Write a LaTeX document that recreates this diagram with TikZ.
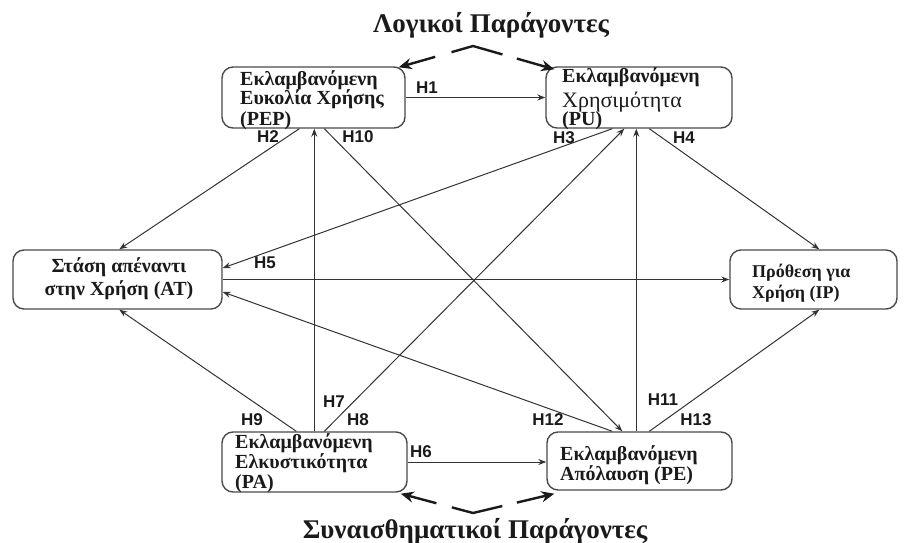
\documentclass[tikz,border=0pt]{standalone}
\usepackage{fontspec}
\setmainfont{Liberation Serif}
\newfontfamily\hsans{Liberation Sans}
\usetikzlibrary{arrows.meta,calc}
\definecolor{ink}{HTML}{1A1A1A}
\definecolor{edge}{HTML}{333333}
\definecolor{frame}{HTML}{4A4A4A}
\tikzset{
  box/.style={draw=frame, line width=1.4pt, rounded corners=11pt, inner sep=0pt},
  btext/.style={anchor=base west, inner sep=0pt, text=ink, font=\fontsize{20}{20}\selectfont\bfseries},
  ctext/.style={anchor=base, inner sep=0pt, text=ink, font=\fontsize{20}{20}\selectfont\bfseries},
  hlab/.style={inner sep=0pt, text=ink, font=\hsans\fontsize{17}{17}\selectfont\bfseries},
  link/.style={draw=edge, line width=1pt, -{Stealth[length=8pt,width=6pt]}},
  factor/.style={draw=ink, line width=2.4pt, {Stealth[length=13pt,width=11pt]}-{Stealth[length=13pt,width=11pt]}},
  title/.style={inner sep=0pt, text=ink, font=\fontsize{27}{27}\selectfont\bfseries}
}
\begin{document}
\begin{tikzpicture}[x=1pt,y=-1pt]
\useasboundingbox (0,0) rectangle (906,543);
% boxes
\node[box, minimum width=183pt, minimum height=61pt] (pep) at (313.5,97.5) {};
\node[box, minimum width=186pt, minimum height=61pt] (pu) at (639,97.5) {};
\node[box, minimum width=209pt, minimum height=59pt] (at) at (117.5,279.5) {};
\node[box, minimum width=167pt, minimum height=59pt] (ip) at (813.5,279.5) {};
\node[box, minimum width=185pt, minimum height=60pt] (pa) at (314.5,462) {};
\node[box, minimum width=185pt, minimum height=58pt] (pe) at (639.5,461) {};
% box texts
\node[btext] (pep1) at (240,85) {Εκλαμβανόμενη};
\node[btext] (pep2) at (240,105) {Ευκολία Χρήσης};
\node[btext] (pep3) at (240,125) {(PEP)};
\node[btext] (pu1) at (562,83) {Εκλαμβανόμενη};
\node[btext, font=\fontsize{22}{22}\selectfont] (pu2) at (562,107) {Χρησιμότητα};
\node[btext] (pu3) at (562,125) {(PU)};
\node[ctext] (at1) at (119,272) {Στάση απέναντι};
\node[ctext] (at2) at (119,295) {στην Χρήση (AT)};
\node[btext, font=\fontsize{18}{18}\selectfont\bfseries] (ip1) at (752,277) {Πρόθεση για};
\node[btext, font=\fontsize{18}{18}\selectfont\bfseries] (ip2) at (752,298) {Χρήση (IP)};
\node[btext] (pa1) at (235,448) {Εκλαμβανόμενη};
\node[btext] (pa2) at (235,468) {Ελκυστικότητα};
\node[btext] (pa3) at (235,488) {(PA)};
\node[btext] (pe1) at (560,460) {Εκλαμβανόμενη};
\node[btext] (pe2) at (560,480) {Απόλαυση (PE)};
% titles
\node[title] (logic) at (491,25) {Λογικοί Παράγοντες};
\node[title] (emot) at (475,531) {Συναισθηματικοί Παράγοντες};
\coordinate (toppeak) at (473,46);
\coordinate (botpeak) at (473,513);
% factor arrows
\draw[factor, dash pattern=on 30pt off 17pt on 53pt off 15pt on 60pt]
  ([xshift=-7pt,yshift=-1pt]pep.north east) -- (toppeak) -- ([xshift=9pt,yshift=-3pt]pu.north west);
\draw[factor, dash pattern=on 29pt off 16pt on 52pt off 15pt on 60pt]
  ([xshift=-7pt,yshift=-1pt]pa.south east) -- (botpeak) -- ([xshift=8pt,yshift=-3pt]pe.south west);
% links
\draw[link] (pep.east) -- (pu.west);
\draw[link] ([xshift=78pt]pep.south west) -- ([xshift=107pt]at.north west);
\draw[link] ([xshift=93pt]pa.north west) -- ([xshift=93pt]pep.south west);
\draw[link] ([xshift=103pt]pep.south west) -- ([xshift=76pt]pe.north west);
\draw[link] ([xshift=67pt]pu.south west) -- ([yshift=11.5pt]at.east);
\draw[link] ([xshift=103pt]pa.north west) -- ([xshift=79pt]pu.south west);
\draw[link] ([xshift=90pt]pe.north west) -- ([xshift=91pt]pu.south west);
\draw[link] ([xshift=104pt]pu.south west) -- ([xshift=90pt]ip.north west);
\draw[link] (at.east) -- (ip.west);
\draw[link] ([xshift=75pt]pa.north west) -- ([xshift=107pt]at.south west);
\draw[link] ([xshift=66pt]pe.north west) -- ([yshift=-12.5pt]at.east);
\draw[link] ([xshift=103pt]pe.north west) -- ([xshift=90pt]ip.south west);
\draw[link] (pa.east) -- (pa.east -| pe.west);
% hypothesis labels
\node[hlab] (h1) at (427,88) {H1};
\node[hlab] (h2) at (268,137) {H2};
\node[hlab] (h10) at (358,137) {H10};
\node[hlab] (h3) at (564,138) {H3};
\node[hlab] (h4) at (684,138) {H4};
\node[hlab] (h5) at (265,263) {H5};
\node[hlab] (h9) at (252,420) {H9};
\node[hlab] (h7) at (334,402) {H7};
\node[hlab] (h8) at (358,420) {H8};
\node[hlab] (h12) at (548,420) {H12};
\node[hlab] (h11) at (663,400) {H11};
\node[hlab] (h13) at (696,420) {H13};
\node[hlab] (h6) at (421,452) {H6};
\end{tikzpicture}
\end{document}
